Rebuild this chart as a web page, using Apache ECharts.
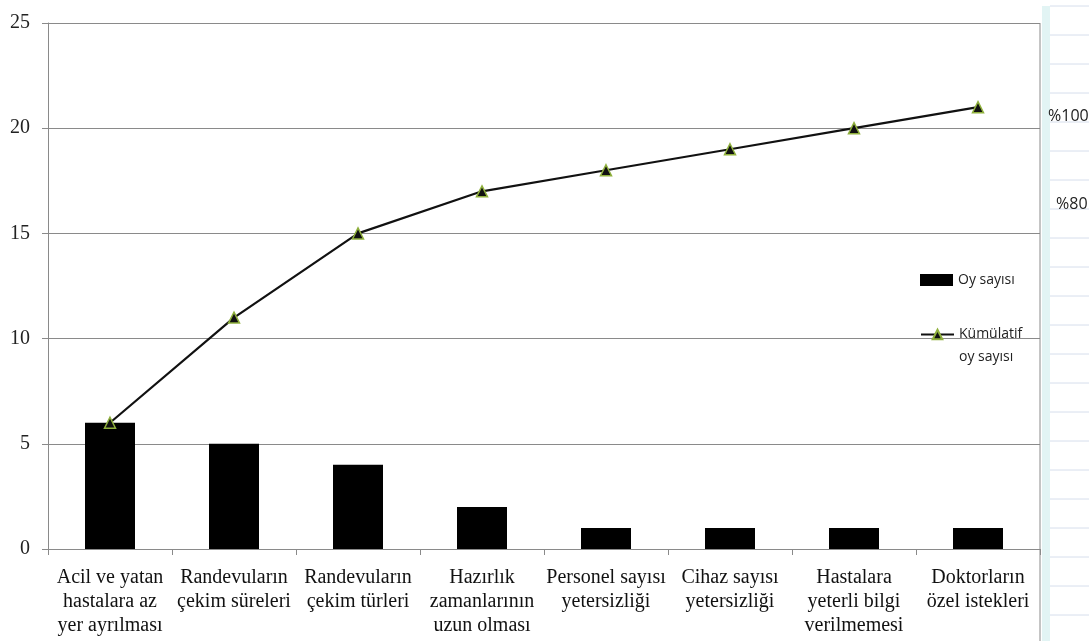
<!DOCTYPE html>
<html>
<head>
<meta charset="utf-8">
<script src="https://cdn.jsdelivr.net/npm/echarts@6/dist/echarts.min.js"></script>
<style>
  html, body { margin: 0; padding: 0; background: #fff; }
  #chart { width: 1089px; height: 641px; }
</style>
</head>
<body>
<div id="chart"></div>
<script>
  // kategoriler (Excel'deki gibi elle satır kırılmış)
  var categories = [
    'Acil ve yatan\nhastalara az\nyer ayrılması',
    'Randevuların\nçekim süreleri',
    'Randevuların\nçekim türleri',
    'Hazırlık\nzamanlarının\nuzun olması',
    'Personel sayısı\nyetersizliği',
    'Cihaz sayısı\nyetersizliği',
    'Hastalara\nyeterli bilgi\nverilmemesi',
    'Doktorların\nözel istekleri'
  ];
  var oySayisi = [6, 5, 4, 2, 1, 1, 1, 1];
  var kumulatif = [6, 11, 15, 17, 18, 19, 20, 21];
  var yTicks = [0, 5, 10, 15, 20, 25];
  var sheetNotes = ['%100', '%80'];

  var myChart = echarts.init(document.getElementById('chart'));

  // sağdaki excel sayfası kenarı
  var sheetLines = [];
  for (var y = 6; y < 641; y += 29) {
    sheetLines.push({
      type: 'line',
      shape: { x1: 1050, y1: y, x2: 1089, y2: y },
      style: { stroke: '#d6deec', lineWidth: 1 },
      z: 1
    });
  }

  myChart.setOption({
    animation: false,
    backgroundColor: '#fff',
    grid: { left: 48, right: 49, top: 23, bottom: 92 },
    legend: [
      {
        left: 920,
        top: 273,
        padding: 0,
        itemGap: 0,
        itemWidth: 33,
        itemHeight: 12,
        textStyle: { fontFamily: 'Open Sans', fontSize: 14, color: '#222' },
        data: [{ name: 'Oy sayısı', icon: 'rect' }]
      },
      {
        // ikon ilk satırla hizalı olsun diye üstte boş satır
        left: 920,
        top: 300,
        padding: 0,
        itemWidth: 33,
        itemHeight: 12,
        formatter: function (name) { return ' \n' + name; },
        textStyle: { fontFamily: 'Open Sans', fontSize: 14, color: '#222', lineHeight: 23 },
        data: [{ name: 'Kümülatif\noy sayısı' }]
      }
    ],
    xAxis: {
      type: 'category',
      data: categories,
      axisLine: { lineStyle: { color: '#8a8a8a', width: 1 } },
      axisTick: { show: true, length: 6, lineStyle: { color: '#8a8a8a' } },
      axisLabel: {
        interval: 0,
        margin: 17,
        fontFamily: 'Liberation Serif',
        fontSize: 20,
        lineHeight: 24,
        color: '#111'
      }
    },
    yAxis: {
      type: 'value',
      min: 0,
      max: 25,
      interval: 5,
      axisLine: { show: true, lineStyle: { color: '#8a8a8a' } },
      axisTick: { show: true, length: 6, lineStyle: { color: '#8a8a8a' } },
      splitLine: { lineStyle: { color: '#8a8a8a', width: 1 } },
      axisLabel: {
        margin: 18,
        fontFamily: 'Liberation Serif',
        fontSize: 20,
        color: '#222',
        formatter: function (v) { return yTicks.indexOf(v) >= 0 ? v : ''; }
      }
    },
    series: [
      {
        name: 'Oy sayısı',
        type: 'bar',
        data: oySayisi,
        barWidth: 50,
        itemStyle: { color: '#000' },
        z: 2
      },
      {
        name: 'Kümülatif\noy sayısı',
        type: 'line',
        data: kumulatif,
        symbol: 'triangle',
        symbolSize: 11,
        lineStyle: { color: '#111', width: 2.2 },
        itemStyle: { color: '#111', borderColor: '#8fb03c', borderWidth: 1.5 },
        z: 3
      }
    ],
    graphic: [
      {
        type: 'rect',
        shape: { x: 1041, y: 0, width: 48, height: 641 },
        style: { fill: '#fff' },
        z: 0
      },
      {
        type: 'rect',
        shape: { x: 1042, y: 6, width: 8, height: 635 },
        style: { fill: '#e2f4f4' },
        z: 1
      },
      {
        type: 'line',
        shape: { x1: 1040, y1: 23, x2: 1040, y2: 641 },
        style: { stroke: '#8a8a8a', lineWidth: 1 },
        z: 2
      }
    ].concat(sheetLines).concat([
      {
        type: 'text',
        left: 1048,
        top: 108,
        style: { text: sheetNotes[0], font: '16px "Open Sans"', fill: '#222' },
        z: 5
      },
      {
        type: 'text',
        left: 1056,
        top: 196,
        style: { text: sheetNotes[1], font: '16px "Open Sans"', fill: '#222' },
        z: 5
      }
    ])
  });
</script>
</body>
</html>
